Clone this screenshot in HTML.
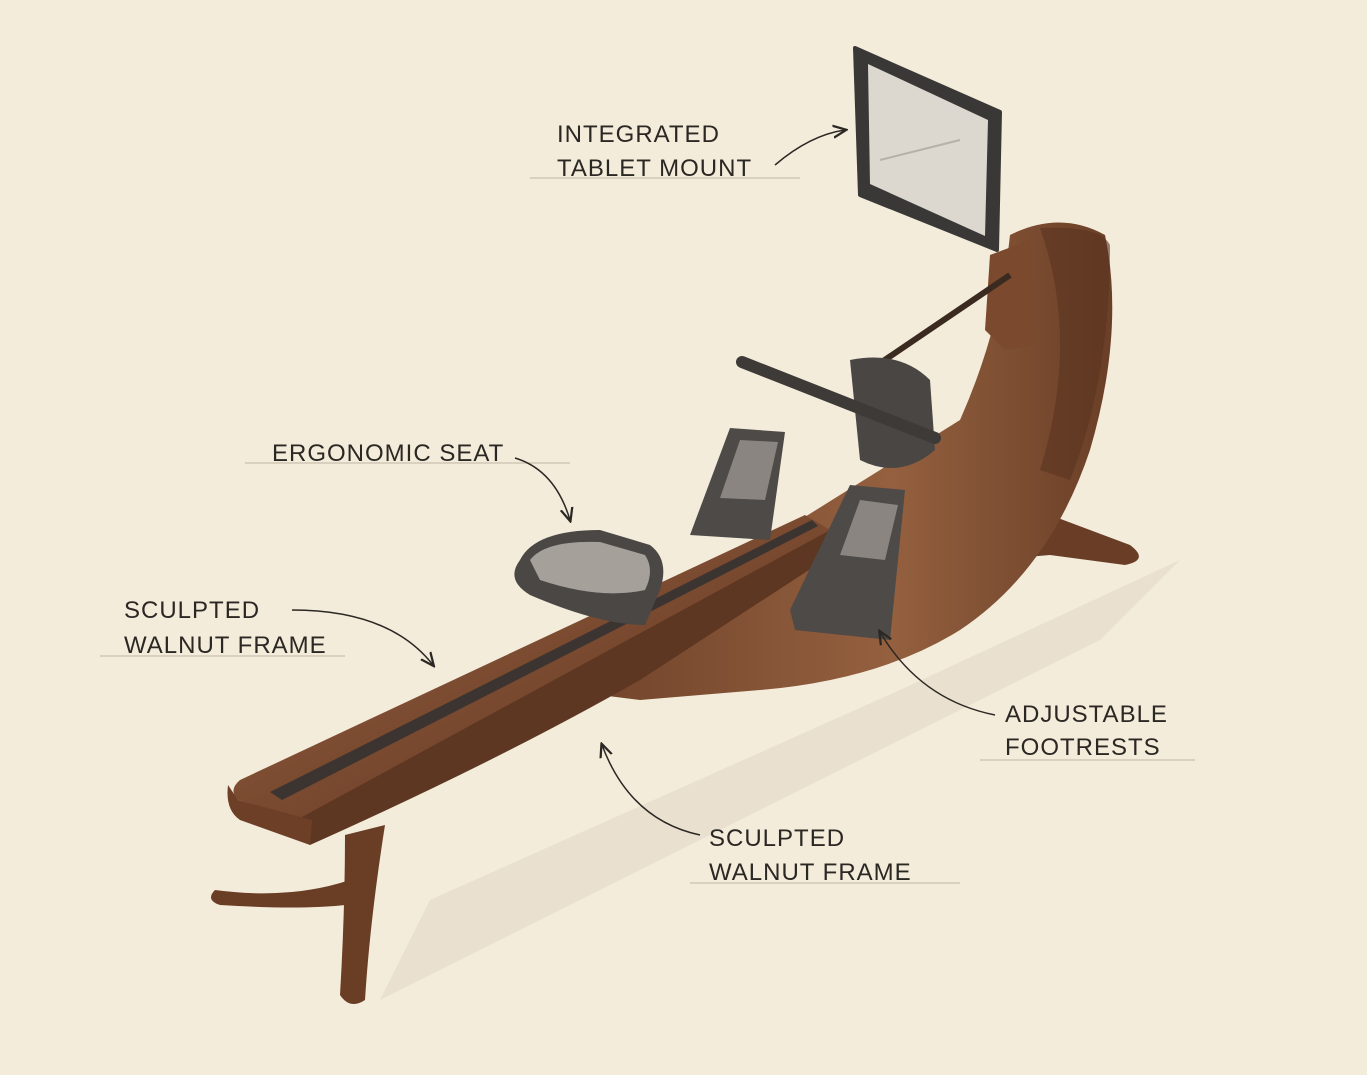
<!DOCTYPE html>
<html><head><meta charset="utf-8"><style>
html,body{margin:0;padding:0;background:#f3ecdb;}
svg{display:block}
text{font-family:"Liberation Sans",sans-serif;font-size:24px;fill:#2b2723;letter-spacing:1px;}
</style></head><body>
<svg width="1367" height="1075" viewBox="0 0 1367 1075" xmlns="http://www.w3.org/2000/svg">
<defs>
<linearGradient id="wood" x1="0" y1="0" x2="1" y2="1">
<stop offset="0" stop-color="#9a6444"/><stop offset="0.5" stop-color="#7a4a30"/><stop offset="1" stop-color="#5c3622"/></linearGradient>
<linearGradient id="hull" x1="0" y1="0" x2="1" y2="0">
<stop offset="0" stop-color="#6e4129"/><stop offset="0.6" stop-color="#94603f"/><stop offset="1" stop-color="#6a3f27"/></linearGradient>
<marker id="ah" markerWidth="10" markerHeight="10" refX="8" refY="5" orient="auto"><path d="M0,1 L9,5 L0,9" fill="none" stroke="#2b2723" stroke-width="1.5"/></marker>
</defs>
<rect width="1367" height="1075" fill="#f3ecdb"/>
<path d="M380,1000 L1100,640 L1180,560 L900,690 L430,900 Z" fill="#e3d9c6" opacity="0.6"/>
<path d="M1010,500 L1130,545 Q1150,560 1125,565 L1050,555 L990,560 Z" fill="#6a3e26"/>
<path d="M1010,235 Q1060,210 1105,235 Q1125,330 1090,450 Q1050,570 960,630 Q880,680 760,690 L640,700 L560,690 L800,520 L960,420 Q1000,330 1010,235 Z" fill="url(#hull)"/>
<path d="M1040,228 Q1100,225 1110,245 Q1110,380 1070,480 L1040,470 Q1080,340 1040,228Z" fill="#5a331f" opacity="0.6"/>
<path d="M990,255 L1030,240 L1035,345 L1005,350 L985,330 Z" fill="#7b4a2e"/>
<line x1="870" y1="370" x2="1010" y2="275" stroke="#3a2a20" stroke-width="6"/>
<path d="M855,48 L1000,112 L997,250 L860,195 Z" fill="#3a3836" stroke="#3a3836" stroke-width="4" stroke-linejoin="round"/>
<path d="M868,64 L988,120 L985,236 L870,184 Z" fill="#dcd8d0"/>
<line x1="880" y1="160" x2="960" y2="140" stroke="#b5b1a9" stroke-width="2"/>
<path d="M850,360 Q900,350 930,380 L935,450 Q900,480 860,460 Z" fill="#4a4644"/>
<line x1="742" y1="362" x2="935" y2="438" stroke="#3d3a38" stroke-width="12" stroke-linecap="round"/>
<path d="M300,815 L830,530 L832,555 L640,680 Q500,760 310,845 Z" fill="#5e3722"/>
<path d="M240,780 Q228,790 238,800 L300,818 L830,530 L805,515 Z" fill="url(#wood)"/>
<path d="M270,792 L812,520 L818,526 L282,800 Z" fill="#3b3431"/>
<path d="M228,785 Q225,810 240,820 L310,845 L312,820 L238,800 Z" fill="#6d3f27"/>
<path d="M345,835 L385,825 Q370,920 365,1000 Q350,1010 340,995 Q345,910 345,835Z" fill="#6a3d25"/>
<path d="M350,880 Q290,900 215,890 Q205,900 220,905 Q300,910 345,905Z" fill="#6a3d25"/>
<path d="M520,560 Q535,530 600,530 L650,545 Q670,560 660,590 L645,625 Q600,625 530,595 Q505,580 520,560Z" fill="#4a4745"/>
<path d="M530,560 Q545,540 600,542 L645,555 Q655,570 645,590 Q600,600 540,580Z" fill="#a5a09a"/>
<path d="M730,428 L785,432 L770,540 L690,535 Z" fill="#4d4a47"/>
<path d="M740,440 L778,442 L765,500 L720,498 Z" fill="#8a8580"/>
<path d="M850,485 L905,490 L890,640 L795,630 L790,610 Z" fill="#4d4a47"/>
<path d="M860,500 L898,505 L885,560 L840,555 Z" fill="#8a8580"/>
<g stroke="#c9c0b0" stroke-width="1.3">
<line x1="530" y1="178" x2="800" y2="178"/>
<line x1="245" y1="463" x2="570" y2="463"/>
<line x1="100" y1="656" x2="345" y2="656"/>
<line x1="980" y1="760" x2="1195" y2="760"/>
<line x1="690" y1="883" x2="960" y2="883"/>
</g>
<text x="557" y="142">INTEGRATED</text>
<text x="557" y="176">TABLET MOUNT</text>
<text x="272" y="461">ERGONOMIC SEAT</text>
<text x="124" y="618">SCULPTED</text>
<text x="124" y="653">WALNUT FRAME</text>
<text x="1005" y="722">ADJUSTABLE</text>
<text x="1005" y="755">FOOTRESTS</text>
<text x="709" y="846">SCULPTED</text>
<text x="709" y="880">WALNUT FRAME</text>
<g fill="none" stroke="#2b2723" stroke-width="1.5" marker-end="url(#ah)">
<path d="M775,165 Q810,135 845,130"/>
<path d="M515,458 Q555,470 570,520"/>
<path d="M292,610 Q390,610 433,665"/>
<path d="M995,715 Q920,700 880,632"/>
<path d="M700,835 Q630,820 602,745"/>
</g>
</svg>
</body></html>
